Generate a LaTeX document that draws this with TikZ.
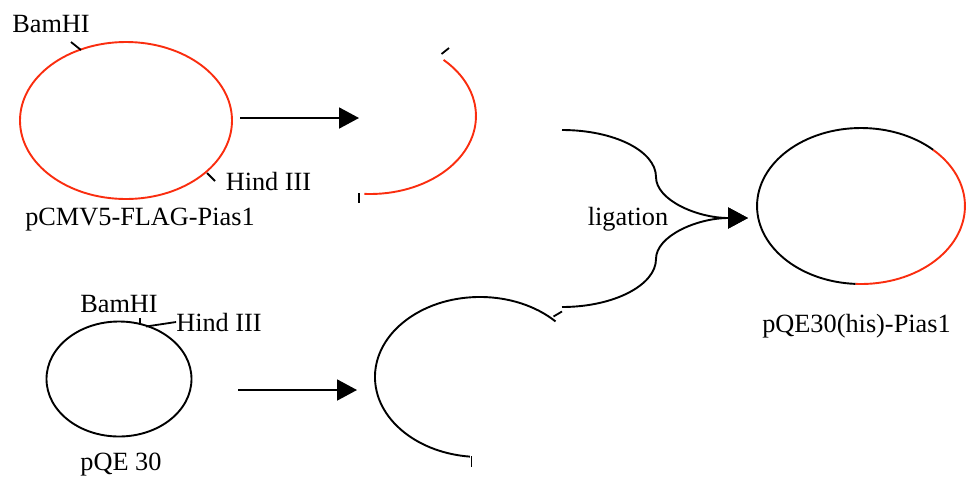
\documentclass[tikz,border=0pt]{standalone}
\usepackage{fontspec}
\setmainfont{Liberation Serif}
\usetikzlibrary{arrows.meta}
\definecolor{insertred}{RGB}{250,45,15}
\begin{document}
\begin{tikzpicture}[x=1pt,y=-1pt,
  strand/.style={line width=1.9pt},
  insert/.style={strand,draw=insertred},
  vector/.style={strand,draw=black},
  site/.style={line width=1.8pt,draw=black},
  lbl/.style={font=\fontsize{26.3}{30}\selectfont,inner sep=0pt,anchor=base},
  flow/.style={line width=1.9pt,-{Triangle[length=20pt,width=21pt]}}]
\useasboundingbox (0,0) rectangle (966,483);

% labels
\node[lbl] (bam1)  at (51,32)    {BamHI};
\node[lbl] (hind1) at (268.5,190){Hind III};
\node[lbl] (src)   at (140,225)  {pCMV5-FLAG-Pias1};
\node[lbl] (lig)   at (628,225)  {ligation};
\node[lbl] (prod)  at (856.5,332){pQE30(his)-Pias1};
\node[lbl] (bam2)  at (119,312)  {BamHI};
\node[lbl] (hind2) at (219,331)  {Hind III};
\node[lbl] (vec)   at (121,470)  {pQE 30};

% source plasmid with its two cut sites
\draw[insert] (126,120.5) ellipse [x radius=106, y radius=78.5];
\draw[site] (71,42) -- (81,50);
\draw[site] (207,173) -- (215,181);

% excised insert
\draw[insert] (443.6,59.9) arc[start angle=-46, end angle=93, x radius=106, y radius=78];
\draw[site] (441.5,54) -- (449,48);
\draw[site] (359,193) -- (359,203);

% vector pQE 30 with its cut sites
\draw[vector] (119,379) ellipse [x radius=72.5, y radius=57.5];
\draw[site] (140,318) -- (140,324);
\coordinate (hindpt) at (146,326.5);
\draw[site] (hindpt) -- (hind2.west);

% opened vector
\draw[vector] (555.5,321.4) arc[start angle=-44, end angle=-264.5, x radius=105, y radius=80];
\draw[site] (553.5,316.5) -- (562,311.5);
\draw[site] (471.5,456) -- (471.5,467);

% recombinant plasmid
\draw[vector] (855.6,283.9) arc[start angle=93, end angle=314, x radius=104, y radius=78];
\draw[insert] (933.2,149.9) arc[start angle=-46, end angle=93, x radius=104, y radius=78];

% digestion arrows
\coordinate (a1s) at (240,118);
\coordinate (a1e) at (359,118);
\coordinate (a2s) at (238,390);
\coordinate (a2e) at (357,390);
\draw[flow] (a1s) -- (a1e);
\draw[flow] (a2s) -- (a2e);

% ligation arrows
\coordinate (lig1) at (562,130);
\coordinate (lig2) at (562,307);
\coordinate (ligmid1) at (656,177);
\coordinate (ligmid2) at (656,259);
\coordinate (ligtip) at (748,218);
\draw[flow] (lig1) .. controls (614,130) and (656,151) .. (ligmid1)
  .. controls (656,200) and (697,218) .. (ligtip);
\draw[flow] (lig2) .. controls (614,307) and (656,285) .. (ligmid2)
  .. controls (656,236) and (697,218) .. (ligtip);
\end{tikzpicture}
\end{document}
